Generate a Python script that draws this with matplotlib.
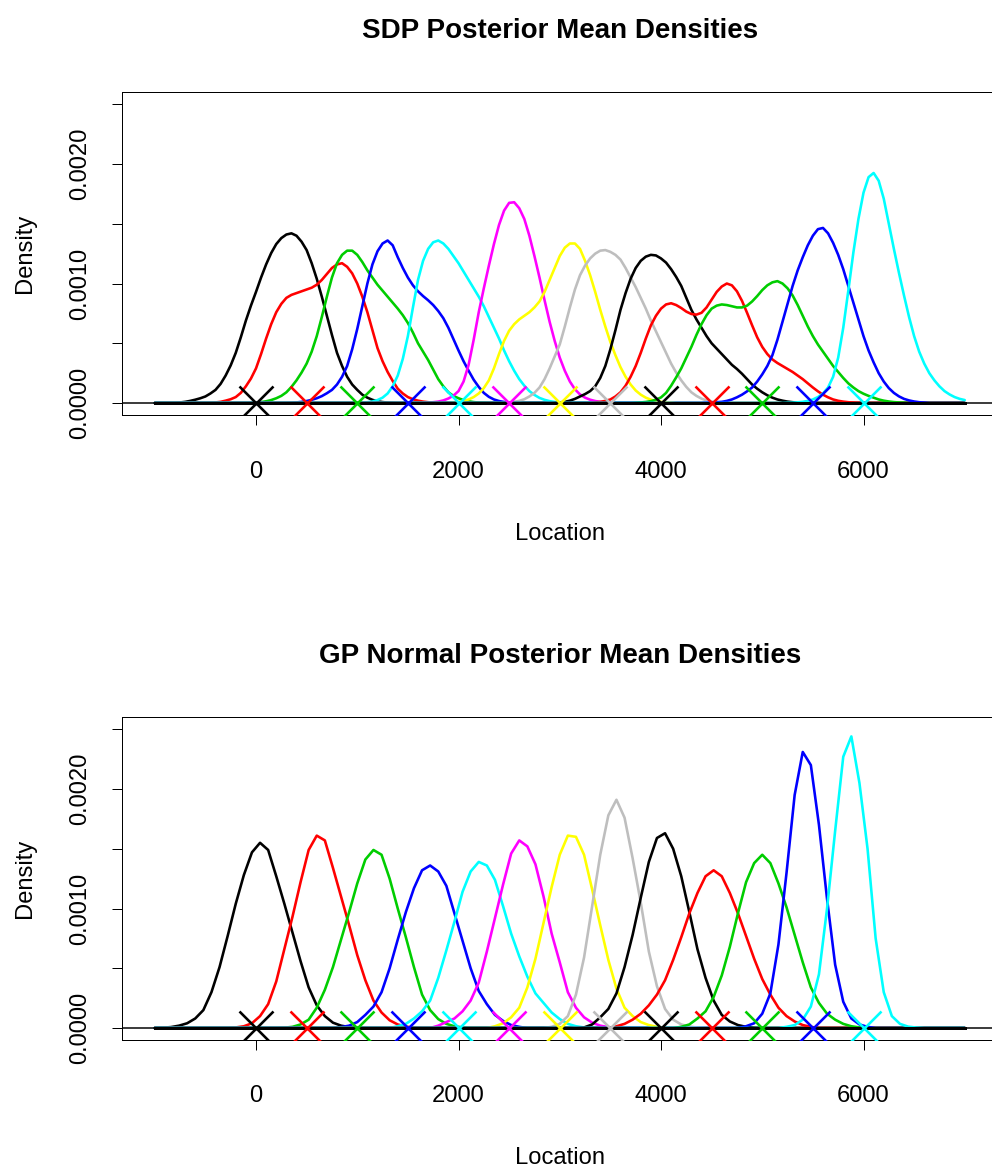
import numpy as np
import matplotlib
matplotlib.use("Agg")
import matplotlib.pyplot as plt

# ---------------- data ----------------
# true component locations (X marks) and R default palette colours
marker_locations = [0, 500, 1000, 1500, 2000, 2500, 3000, 3500, 4000, 4500, 5000, 5500, 6000]
palette = ["#000000", "#FF0000", "#00CD00", "#0000FF", "#00FFFF", "#FF00FF", "#FFFF00", "#BEBEBE"]

# SDP panel: density evaluation grid (Location, step 50) and per-curve values (x 1e-4),
# each list starting at the grid location given in sdp_starts
sdp_grid = np.arange(-1000, 7001, 50)
sdp_starts = [-750, -450, -50, 350, 1050, 1650, 1950, 2450, 2950, 3350, 3750, 4450, 5250]
sdp_values = [
    [0.05, 0.1, 0.18, 0.28, 0.4, 0.55, 0.8, 1.1, 1.6, 2.3, 3.15, 4.2, 5.5, 6.9, 8.15, 9.3, 10.5, 11.6, 12.55, 13.3,
     13.8, 14.1, 14.2, 14.0, 13.5, 12.8, 11.7, 10.4, 8.9, 7.3, 5.7, 4.2, 3.1, 2.2, 1.55, 1.1, 0.7, 0.45, 0.27, 0.15,
     0.08, 0.04, 0.02],
    [0.02, 0.05, 0.1, 0.2, 0.32, 0.5, 0.85, 1.4, 2.05, 2.9, 4.1, 5.4, 6.6, 7.6, 8.3, 8.8, 9.05, 9.2, 9.35, 9.5,
     9.65, 9.9, 10.3, 10.8, 11.3, 11.6, 11.7, 11.4, 10.85, 10.0, 8.9, 7.6, 6.1, 4.6, 3.5, 2.6, 1.85, 1.2, 0.8, 0.5,
     0.32, 0.2, 0.12, 0.07, 0.04, 0.02],
    [0.02, 0.04, 0.08, 0.15, 0.25, 0.4, 0.6, 0.9, 1.35, 1.9, 2.55, 3.3, 4.3, 5.6, 7.2, 8.9, 10.5, 11.7, 12.4, 12.75,
     12.75, 12.4, 11.8, 11.1, 10.5, 9.9, 9.4, 8.9, 8.4, 7.9, 7.35, 6.7, 5.9, 5.0, 4.3, 3.6, 2.8, 2.0, 1.4, 0.9,
     0.6, 0.4, 0.25, 0.15, 0.08, 0.04, 0.02],
    [0.02, 0.05, 0.1, 0.17, 0.27, 0.4, 0.58, 0.82, 1.1, 1.55, 2.2, 3.1, 4.5, 6.2, 8.1, 10.0, 11.6, 12.7, 13.35, 13.6,
     13.2, 12.2, 11.3, 10.5, 9.85, 9.35, 8.95, 8.6, 8.2, 7.7, 7.1, 6.3, 5.35, 4.4, 3.5, 2.7, 1.95, 1.35, 0.85, 0.52,
     0.3, 0.17, 0.09, 0.04, 0.02],
    [0.03, 0.07, 0.13, 0.25, 0.45, 0.8, 1.4, 2.3, 3.7, 5.6, 8.0, 10.3, 11.9, 12.9, 13.45, 13.6, 13.35, 12.9, 12.3, 11.7,
     11.0, 10.3, 9.6, 8.9, 8.1, 7.2, 6.3, 5.4, 4.4, 3.5, 2.7, 2.0, 1.45, 1.0, 0.68, 0.43, 0.27, 0.16, 0.09, 0.05,
     0.02],
    [0.02, 0.04, 0.07, 0.12, 0.22, 0.38, 0.62, 1.0, 1.8, 3.2, 5.3, 7.6, 9.6, 11.5, 13.3, 14.9, 16.1, 16.75, 16.8, 16.3,
     15.4, 14.0, 12.3, 10.5, 8.6, 6.8, 5.2, 3.8, 2.7, 1.8, 1.15, 0.72, 0.45, 0.28, 0.17, 0.1, 0.05, 0.03],
    [0.05, 0.1, 0.18, 0.3, 0.5, 0.8, 1.25, 1.9, 2.9, 4.1, 5.2, 6.05, 6.6, 7.0, 7.3, 7.6, 8.0, 8.5, 9.3, 10.3,
     11.3, 12.3, 13.0, 13.35, 13.35, 12.9, 11.9, 10.7, 9.3, 7.8, 6.4, 5.1, 4.0, 3.0, 2.2, 1.55, 1.05, 0.7, 0.45, 0.28,
     0.17, 0.1, 0.05, 0.03],
    [0.02, 0.05, 0.1, 0.18, 0.32, 0.55, 0.85, 1.3, 2.0, 2.9, 3.9, 4.9, 6.4, 8.0, 9.5, 10.7, 11.5, 12.1, 12.5, 12.75,
     12.8, 12.65, 12.4, 12.0, 11.3, 10.5, 9.7, 8.8, 7.9, 6.9, 6.0, 5.1, 4.2, 3.3, 2.55, 1.9, 1.35, 0.9, 0.6, 0.37,
     0.22, 0.12, 0.06, 0.03],
    [0.02, 0.05, 0.1, 0.2, 0.35, 0.55, 0.75, 1.0, 1.4, 2.1, 3.1, 4.5, 6.1, 7.8, 9.2, 10.4, 11.3, 11.9, 12.25, 12.4,
     12.35, 12.1, 11.75, 11.2, 10.55, 9.8, 8.8, 7.8, 7.0, 6.3, 5.6, 5.0, 4.55, 4.1, 3.65, 3.2, 2.85, 2.45, 2.0, 1.55,
     1.2, 0.9, 0.65, 0.45, 0.3, 0.2, 0.12, 0.07, 0.04, 0.02],
    [0.05, 0.1, 0.18, 0.3, 0.55, 0.9, 1.45, 2.2, 3.1, 4.2, 5.4, 6.5, 7.3, 7.9, 8.25, 8.35, 8.2, 7.95, 7.65, 7.45,
     7.4, 7.55, 8.0, 8.65, 9.3, 9.75, 10.0, 9.85, 9.35, 8.55, 7.55, 6.5, 5.5, 4.7, 4.1, 3.65, 3.35, 3.1, 2.85, 2.6,
     2.3, 2.0, 1.65, 1.3, 0.98, 0.7, 0.48, 0.3, 0.19, 0.12, 0.07, 0.04, 0.02],
    [0.02, 0.05, 0.09, 0.16, 0.28, 0.47, 0.85, 1.45, 2.15, 2.9, 3.8, 4.7, 5.7, 6.6, 7.35, 7.9, 8.15, 8.25, 8.2, 8.1,
     8.0, 8.0, 8.15, 8.5, 8.95, 9.45, 9.85, 10.1, 10.2, 10.0, 9.6, 9.0, 8.2, 7.3, 6.4, 5.6, 4.9, 4.3, 3.7, 3.1,
     2.6, 2.1, 1.65, 1.3, 1.0, 0.78, 0.6, 0.45, 0.3, 0.2, 0.13, 0.08, 0.05, 0.03],
    [0.03, 0.05, 0.07, 0.1, 0.18, 0.3, 0.48, 0.7, 0.98, 1.3, 1.8, 2.4, 3.1, 4.0, 5.3, 6.8, 8.3, 9.8, 11.1, 12.2,
     13.2, 14.0, 14.55, 14.65, 14.2, 13.4, 12.4, 11.2, 9.8, 8.4, 7.0, 5.6, 4.4, 3.4, 2.5, 1.8, 1.25, 0.85, 0.56, 0.35,
     0.22, 0.13, 0.07, 0.04],
    [0.02, 0.03, 0.06, 0.1, 0.18, 0.3, 0.5, 0.8, 1.3, 2.2, 3.8, 6.3, 9.4, 12.6, 15.4, 17.6, 18.9, 19.25, 18.6, 17.1,
     15.0, 12.9, 10.9, 9.0, 7.2, 5.6, 4.3, 3.3, 2.5, 1.9, 1.4, 1.0, 0.72, 0.5, 0.35, 0.25],
]

# GP Normal panel: coarser evaluation grid (step 80) and per-curve values (x 1e-4)
gp_grid = np.arange(-1000, 7001, 80)
gp_starts = [-920, -200, 280, 840, 1400, 1800, 2360, 2920, 3240, 3560, 4200, 4840, 5240]
gp_values = [
    [0.03, 0.08, 0.2, 0.4, 0.8, 1.5, 3.0, 5.1, 7.7, 10.4, 12.8, 14.7, 15.5, 14.9, 12.7, 10.4, 8.0, 5.6, 3.4, 1.9, 1.0, 0.45, 0.2, 0.08, 0.03],
    [0.05, 0.15, 0.4, 1.0, 2.0, 3.9, 6.6, 9.3, 12.2, 14.9, 16.1, 15.7, 13.4, 11.0, 8.6, 6.1, 4.0, 2.3, 1.3, 0.65, 0.3, 0.12, 0.04],
    [0.03, 0.1, 0.3, 0.7, 1.7, 3.2, 5.1, 7.4, 9.7, 12.1, 14.1, 14.9, 14.5, 12.5, 10.0, 7.6, 5.1, 2.8, 1.5, 0.75, 0.35, 0.15, 0.05],
    [0.08, 0.2, 0.5, 1.1, 1.8, 3.0, 5.0, 7.4, 9.7, 11.7, 13.2, 13.6, 13.1, 11.9, 9.6, 7.3, 5.0, 3.1, 2.0, 1.1, 0.6, 0.25, 0.1],
    [0.15, 0.35, 0.8, 1.4, 2.3, 4.2, 6.5, 8.9, 11.4, 13.1, 13.9, 13.6, 12.4, 10.2, 7.9, 6.0, 4.3, 2.9, 2.1, 1.3, 0.75, 0.35, 0.15, 0.05],
    [0.2, 0.5, 0.8, 1.4, 2.3, 3.8, 6.4, 9.2, 12.0, 14.6, 15.7, 15.2, 13.7, 11.0, 7.9, 5.5, 3.0, 1.7, 0.9, 0.45, 0.2, 0.08],
    [0.15, 0.4, 0.9, 1.7, 3.4, 5.8, 8.8, 11.8, 14.5, 16.1, 16.0, 14.5, 11.6, 8.6, 5.7, 3.3, 1.7, 1.0, 0.5, 0.25, 0.1],
    [0.1, 0.35, 1.0, 2.8, 5.9, 10.2, 14.5, 17.8, 19.1, 17.6, 14.2, 10.5, 6.4, 3.5, 1.6, 0.7, 0.3, 0.12, 0.04],
    [0.05, 0.3, 0.9, 1.6, 2.9, 5.1, 7.8, 10.9, 13.9, 15.9, 16.3, 15.0, 12.7, 9.7, 6.6, 4.2, 2.3, 1.1, 0.55, 0.25, 0.1, 0.03],
    [0.15, 0.35, 0.7, 1.2, 1.9, 2.8, 4.0, 5.7, 7.6, 9.6, 11.3, 12.7, 13.2, 12.7, 11.3, 9.6, 7.7, 5.8, 4.1, 2.8, 1.7, 1.0, 0.55, 0.25, 0.1],
    [0.1, 0.3, 0.8, 1.4, 2.6, 4.4, 6.8, 9.6, 12.2, 13.8, 14.5, 13.8, 12.1, 10.1, 7.8, 5.5, 3.4, 2.1, 1.2, 0.7, 0.35, 0.15, 0.05],
    [0.15, 0.4, 1.2, 2.9, 7.0, 13.0, 19.5, 23.1, 22.0, 17.0, 10.8, 5.3, 2.2, 0.8, 0.3, 0.1],
    [0.1, 0.25, 0.7, 1.8, 4.5, 10.0, 16.5, 22.7, 24.4, 20.5, 15.0, 7.5, 3.0, 1.0, 0.35, 0.12, 0.04],
]

panel_titles = ["SDP Posterior Mean Densities", "GP Normal Posterior Mean Densities"]
x_label = "Location"
y_label = "Density"
x_ticks = [0, 2000, 4000, 6000]
y_ticks = [0.0, 0.0005, 0.0010, 0.0015, 0.0020, 0.0025]
y_ticklabels = ["0.0000", "", "0.0010", "", "0.0020", ""]

# ---------------- drawing ----------------
W, H, DPI = 992, 1170, 100
PX = 72.0 / DPI  # points per pixel
FONT = "Liberation Sans"
LW = 2.6 * PX

fig = plt.figure(figsize=(W / DPI, H / DPI), dpi=DPI)


def add_axes_px(left, top, right, bottom):
    return fig.add_axes([left / W, 1 - bottom / H, (right - left) / W, (bottom - top) / H])


def full_curve(grid, start, values):
    y = np.zeros(len(grid))
    i0 = int(np.searchsorted(grid, start))
    y[i0:i0 + len(values)] = np.asarray(values) * 1e-4
    return y


panels = [
    (sdp_grid, sdp_starts, sdp_values, 92.3, 415.0),
    (gp_grid, gp_starts, gp_values, 717.3, 1040.0),
]

for p, (grid, starts, values, top, bottom) in enumerate(panels):
    ax = add_axes_px(122.35, top, 997.15, bottom)
    for i, (st, vals) in enumerate(zip(starts, values)):
        ax.plot(grid, full_curve(grid, st, vals), color=palette[i % len(palette)],
                lw=LW, solid_joinstyle="round", solid_capstyle="round", zorder=2)
    ax.plot([grid[0], grid[-1]], [0, 0], color="black", lw=3.0 * PX, zorder=3)
    ax.axhline(0, color="black", lw=1.5 * PX, zorder=3)
    for i, loc in enumerate(marker_locations):
        ax.plot([loc], [0], marker="x", ms=24, mew=LW,
                color=palette[i % len(palette)], zorder=4, linestyle="none")
    ax.set_xlim(-1320, 7320)
    ax.set_ylim(-0.0001, 0.0026)
    ax.set_xticks(x_ticks)
    ax.set_xticklabels([str(t) for t in x_ticks], fontsize=17.1, fontfamily=FONT)
    ax.set_yticks(y_ticks)
    ax.set_yticklabels(y_ticklabels, fontsize=17.1, fontfamily=FONT, rotation=90, va="center")
    ax.tick_params(axis="x", direction="out", length=10 * PX, width=1 * PX, pad=35.5 * PX)
    ax.tick_params(axis="y", direction="out", length=10 * PX, width=1 * PX, pad=20.8 * PX)
    for s in ax.spines.values():
        s.set_linewidth(1 * PX)
    # titles & axis labels
    cx = (122.35 + 997.15) / 2
    fig.text(cx / W, 1 - (top - 54.3) / H, panel_titles[p], ha="center", va="baseline",
             fontsize=20.0, fontweight="bold", fontfamily=FONT)
    fig.text(cx / W, 1 - (bottom + 124.5) / H, x_label, ha="center", va="baseline",
             fontsize=17.1, fontfamily=FONT)
    fig.text(30.5 / W, 1 - ((top + bottom) / 2) / H, y_label, rotation=90, rotation_mode="anchor",
             ha="center", va="baseline", fontsize=17.1, fontfamily=FONT)

fig.savefig("out.png", dpi=DPI)
